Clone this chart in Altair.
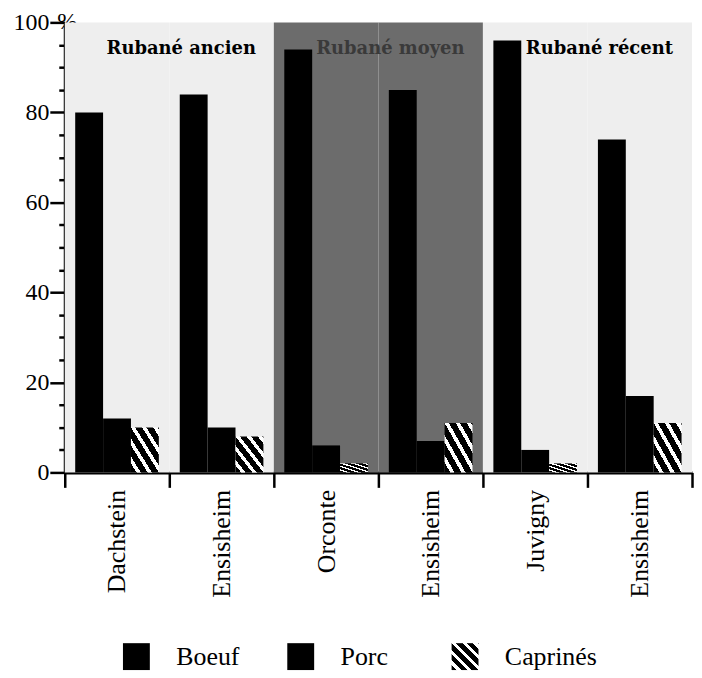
import altair as alt
import pandas as pd

# ---- data ----
sites = ["Dachstein", "Ensisheim", "Orconte", "Ensisheim", "Juvigny", "Ensisheim"]
site_period = ["Rubané ancien", "Rubané ancien", "Rubané moyen",
               "Rubané moyen", "Rubané récent", "Rubané récent"]
species = ["Boeuf", "Porc", "Caprinés"]
boeuf = [80, 84, 94, 85, 96, 74]
porc = [12, 10, 6, 7, 5, 17]
caprines = [10, 8, 2, 11, 2, 11]
period_names = ["Rubané ancien", "Rubané moyen", "Rubané récent"]
period_fill = ["#eeeeee", "#6c6c6c", "#eeeeee"]
period_text = ["black", "#3a3a3a", "black"]
y_ticks = list(range(0, 101, 5))

SERIF = "Liberation Serif"
SERIF2 = "DejaVu Serif"

keys = [f"{i}|{s}" for i, s in enumerate(sites)]

rows = []
for k, b, p, c in zip(keys, boeuf, porc, caprines):
    rows += [{"key": k, "species": "Boeuf", "value": b},
             {"key": k, "species": "Porc", "value": p},
             {"key": k, "species": "Caprinés", "value": c}]
df = pd.DataFrame(rows)
df_bg = pd.DataFrame({"key": keys, "period": site_period})
# label anchored at the boundary between the two sites of each period
df_lab = pd.DataFrame({"key": [keys[1], keys[3], keys[5]], "period": period_names})

# hatch fill (white diagonal stripes on black)
n = 5
stops = []
for k in range(n):
    a = k / n
    stops += [
        {"offset": a, "color": "black"},
        {"offset": a + 0.5 / n, "color": "black"},
        {"offset": a + 0.5 / n, "color": "white"},
        {"offset": a + 0.88 / n, "color": "white"},
        {"offset": a + 0.88 / n, "color": "black"},
    ]
stops.append({"offset": 1, "color": "black"})
hatch = {"gradient": "linear", "x1": 0, "y1": 1, "x2": 1, "y2": 0, "stops": stops}
fill_cond = alt.condition(alt.datum.species == "Caprinés", alt.value(hatch), alt.value("black"))

x_axis = alt.Axis(
    title=None, tickBand="extent", tickSize=15, tickWidth=2.5, tickColor="black",
    domainWidth=3, domainColor="black", labelAngle=-90, labelAlign="right",
    labelBaseline="middle", labelPadding=2, labelFont=SERIF, labelFontSize=26,
    labelColor="black", labelExpr="split(datum.label, '|')[1]", grid=False,
)
y_axis = alt.Axis(
    values=y_ticks, labelExpr="datum.value % 20 === 0 ? datum.label : ''",
    tickSize={"condition": {"test": "datum.value % 20 === 0", "value": 15}, "value": 6},
    tickWidth=2.5, tickColor="black", domainWidth=3, domainColor="black",
    labelFont=SERIF, labelFontSize=24, labelColor="black", labelPadding=1, grid=False,
    title="%", titleAngle=0, titleX=2, titleY=-1, titleAlign="center",
    titleBaseline="middle", titleFont=SERIF, titleFontSize=24, titleFontWeight="normal",
    titleColor="black",
)
y_scale = alt.Scale(domain=[0, 100], nice=False)
x_enc = alt.X("key:N", sort=keys, axis=x_axis,
              scale=alt.Scale(paddingInner=0, paddingOuter=0))

bg = alt.Chart(df_bg).mark_bar(strokeWidth=0).encode(
    x=x_enc,
    y=alt.YDatum(100, axis=y_axis, scale=y_scale),
    fill=alt.Fill("period:N", scale=alt.Scale(domain=period_names, range=period_fill), legend=None),
)

bars = alt.Chart(df).mark_bar(strokeWidth=0).encode(
    x=x_enc,
    xOffset=alt.XOffset("species:N", sort=species,
                        scale=alt.Scale(domain=species, paddingInner=0, paddingOuter=0.375)),
    y=alt.Y("value:Q", axis=y_axis, scale=y_scale),
    color=fill_cond,
)

labels = alt.Chart(df_lab).mark_text(
    font=SERIF2, fontSize=18, fontWeight="bold", baseline="middle", align="center", dx=12
).encode(
    x=alt.X("key:N", sort=keys, axis=x_axis, bandPosition=0,
            scale=alt.Scale(paddingInner=0, paddingOuter=0)),
    y=alt.YDatum(94, axis=y_axis, scale=y_scale),
    text="period:N",
    color=alt.Color("period:N", scale=alt.Scale(domain=period_names, range=period_text), legend=None),
)

main = alt.layer(bg, bars, labels).properties(width=630, height=452)

leg_df = pd.DataFrame({"species": species})
lx = alt.X("species:N", sort=species, axis=None,
           scale=alt.Scale(type="point", padding=0.436))
leg_sq = alt.Chart(leg_df).mark_square(size=729, opacity=1).encode(x=lx, color=fill_cond)
leg_tx = alt.Chart(leg_df).mark_text(align="left", dx=40, font=SERIF, fontSize=26,
                                     color="black", baseline="middle").encode(x=lx, text="species:N")
legend = alt.layer(leg_sq, leg_tx).properties(width=474, height=28)

chart = alt.vconcat(main, legend, spacing=45).properties(
    padding={"left": 5, "top": 0, "right": 0, "bottom": 0}
).configure_view(stroke=None)

chart.save("out.html", embed_options={"renderer": "svg", "actions": False})
